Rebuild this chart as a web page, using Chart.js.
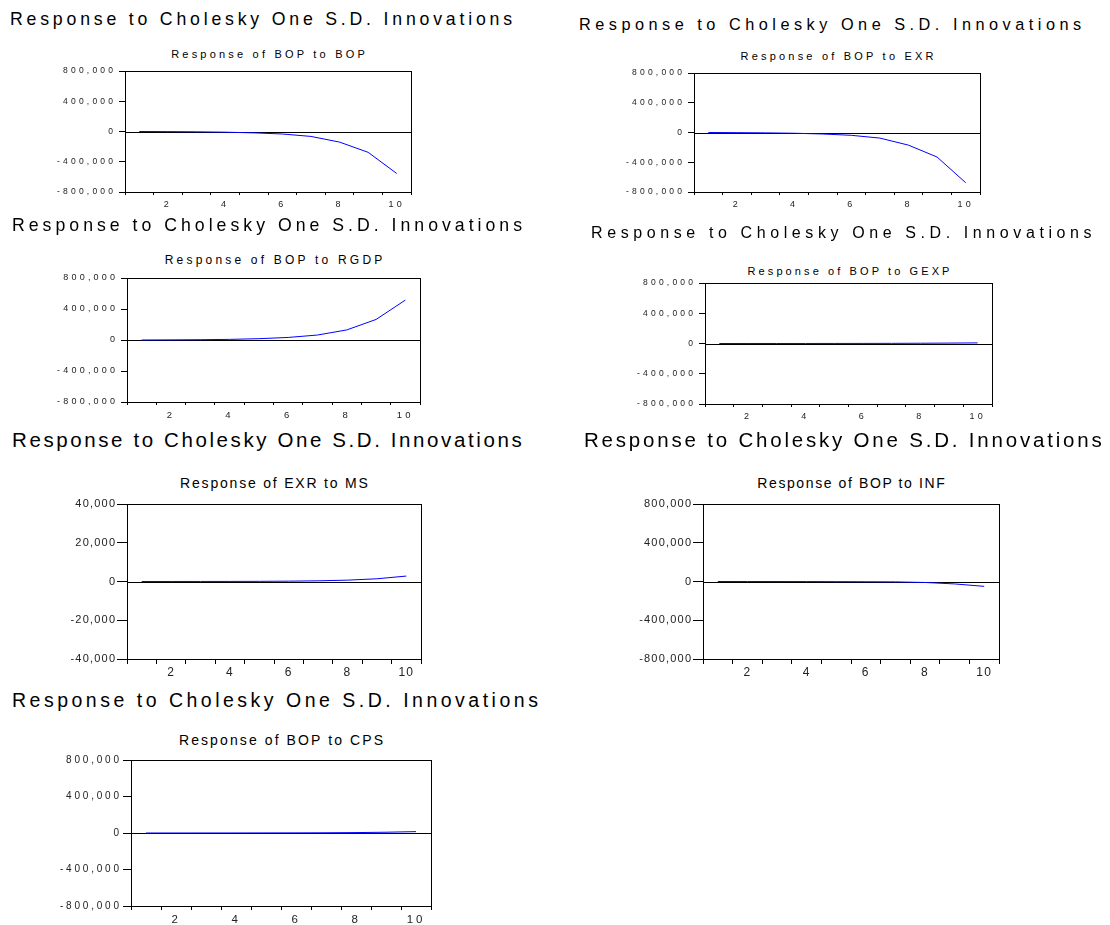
<!DOCTYPE html>
<html>
<head>
<meta charset="utf-8">
<script src="https://cdn.jsdelivr.net/npm/chart.js@4.4.1/dist/chart.umd.min.js"></script>
<style>
  body { margin: 0; background: #fff; width: 1110px; height: 925px; position: relative; overflow: hidden;
         font-family: "Liberation Sans", Arial, sans-serif; color: #000; }
  .sup, .sub { position: absolute; white-space: nowrap; line-height: 1; }
  .panel { position: absolute; }
</style>
</head>
<body>
<script>
// periods on the x axis
const periods = ["1", "2", "3", "4", "5", "6", "7", "8", "9", "10"];

// impulse responses
const bopToBop  = [0, -1500, -4000, -9000, -18000, -33000, -65000, -140000, -275000, -555000];
const bopToExr  = [0, -2000, -5000, -10000, -20000, -38000, -75000, -170000, -330000, -675000];
const bopToRgdp = [0, 1500, 4000, 8000, 17000, 33000, 64000, 130000, 265000, 515000];
const bopToGexp = [0, 100, 200, 400, 700, 1200, 2000, 3500, 5500, 8000];
const exrToMs   = [0, 10, 20, 40, 80, 170, 350, 700, 1400, 2800];
const bopToInf  = [0, -200, -400, -800, -1500, -2500, -4000, -10000, -25000, -50000];
const bopToCps  = [0, 100, 300, 500, 900, 1500, 2500, 4500, 8500, 15000];

// y axis ticks
const bigTicks = [-800000, -400000, 0, 400000, 800000];
const smallTicks = [-40000, -20000, 0, 20000, 40000];

const suptitle = "Response to Cholesky One S.D. Innovations";

// panel layout: plot box [left, top, right, bottom], title/subtitle placement, tick styling
const panels = [
  { data: bopToBop, name: "Response of BOP to BOP", ticks: bigTicks, box: [125, 71, 411, 192],
    sup: [10, 20, 17.7, 3.8], sub: [54, 11, 3.2], tf: [8.5, 9, 3.2], ty: 6, tx: 3, px: 4.6 },
  { data: bopToExr, name: "Response of BOP to EXR", ticks: bigTicks, box: [694, 73, 980, 192],
    sup: [579, 24, 16.3, 4.5], sub: [56, 11, 3.2], tf: [8.5, 9, 3.2], ty: 6, tx: 3, px: 4.6 },
  { data: bopToRgdp, name: "Response of BOP to RGDP", ticks: bigTicks, box: [127, 278, 420, 402],
    sup: [12, 226, 17.7, 4.0], sub: [260, 12, 3.2], tf: [9, 9.5, 3.2], ty: 6, tx: 3, px: 4.6 },
  { data: bopToGexp, name: "Response of BOP to GEXP", ticks: bigTicks, box: [705, 283, 992, 404],
    sup: [591, 233, 16, 4.6], sub: [271, 11, 3.1], tf: [8.5, 9, 3.2], ty: 6, tx: 3, px: 4.6 },
  { data: exrToMs, name: "Response of EXR to MS", ticks: smallTicks, box: [127, 504, 421, 659],
    sup: [12, 440, 20.5, 2.6], sub: [483, 14, 1.8], tf: [11, 12, 1.2], ty: 10, tx: 5, px: 1.8 },
  { data: bopToInf, name: "Response of BOP to INF", ticks: bigTicks, box: [703, 504, 999, 659],
    sup: [584, 440, 20.5, 2.8], sub: [483, 14, 1.6], tf: [11, 12, 1.2], ty: 10, tx: 5, px: 1.8 },
  { data: bopToCps, name: "Response of BOP to CPS", ticks: bigTicks, box: [131, 760, 431, 906],
    sup: [12, 701, 19.5, 3.5], sub: [740, 14, 2.1], tf: [10, 11.5, 2.8], ty: 8, tx: 4, px: 3 },
];

const PADL = 75, PADT = 10, PADR = 12, PADB = 26;

// frame + zero line, and letter spacing for canvas text
const frame = {
  id: "frame",
  beforeDraw(chart, args, opts) {
    chart.ctx.letterSpacing = opts.spacing + "px";
  },
  beforeDatasetsDraw(chart) {
    const { ctx, chartArea: a, scales } = chart;
    const y0 = Math.round(scales.y.getPixelForValue(0)) + 0.5;
    ctx.save();
    ctx.strokeStyle = "#000";
    ctx.lineWidth = 1;
    ctx.beginPath();
    ctx.moveTo(a.left, y0);
    ctx.lineTo(a.right, y0);
    ctx.stroke();
    ctx.restore();
  },
  afterDraw(chart) {
    const { ctx, chartArea: a } = chart;
    ctx.save();
    ctx.strokeStyle = "#000";
    ctx.lineWidth = 1;
    ctx.strokeRect(Math.round(a.left) + 0.5, Math.round(a.top) + 0.5,
      Math.round(a.right - a.left), Math.round(a.bottom - a.top));
    ctx.restore();
  },
};

function addText(cls, text, left, top, size, spacing) {
  const d = document.createElement("div");
  d.className = cls;
  d.textContent = text;
  d.style.left = left + "px";
  d.style.top = top + "px";
  d.style.fontSize = size + "px";
  d.style.letterSpacing = spacing + "px";
  document.body.appendChild(d);
  return d;
}

panels.forEach((p) => {
  const [l, t, r, b] = p.box;

  // big title over each panel
  addText("sup", suptitle, p.sup[0], p.sup[1] - 0.49 * p.sup[2], p.sup[2], p.sup[3]);

  // small title, centred on the plot box
  const s = addText("sub", p.name, (l + r) / 2, p.sub[0] - 0.49 * p.sub[1], p.sub[1], p.sub[2]);
  s.style.transform = "translateX(-50%)";
  s.style.marginLeft = p.sub[2] / 2 + "px";

  const wrap = document.createElement("div");
  wrap.className = "panel";
  wrap.style.left = l - PADL + "px";
  wrap.style.top = t - PADT + "px";
  wrap.style.width = r - l + PADL + PADR + "px";
  wrap.style.height = b - t + PADT + PADB + "px";
  const cv = document.createElement("canvas");
  wrap.appendChild(cv);
  document.body.appendChild(wrap);

  const yMin = p.ticks[0], yMax = p.ticks[p.ticks.length - 1];
  const yPad = 12 - p.ty - p.tf[2];

  new Chart(cv, {
    type: "line",
    data: {
      labels: periods,
      datasets: [{
        data: p.data,
        borderColor: "#0000ff",
        borderWidth: 1,
        pointRadius: 0,
        tension: 0,
        fill: false,
      }],
    },
    options: {
      responsive: true,
      maintainAspectRatio: false,
      animation: false,
      events: [],
      layout: { padding: { left: 0, top: PADT, right: PADR, bottom: 0 } },
      plugins: {
        legend: { display: false },
        tooltip: { enabled: false },
        frame: { spacing: p.tf[2] },
      },
      scales: {
        x: {
          type: "category",
          offset: true,
          border: { display: false },
          grid: { offset: true, drawOnChartArea: false, drawTicks: true, tickLength: p.tx, color: "#000", tickColor: "#000" },
          ticks: {
            autoSkip: false,
            maxRotation: 0,
            padding: p.px,
            color: "#222",
            font: { family: "Liberation Sans", size: p.tf[1] },
            callback: (v, i) => (i % 2 === 1 ? periods[i] : ""),
          },
          afterFit: (scale) => { scale.height = PADB; },
        },
        y: {
          min: yMin,
          max: yMax,
          border: { display: false },
          grid: { drawOnChartArea: false, drawTicks: true, tickLength: p.ty, color: "#000", tickColor: "#000" },
          ticks: {
            stepSize: p.ticks[1] - p.ticks[0],
            padding: yPad,
            color: "#222",
            font: { family: "Liberation Sans", size: p.tf[0] },
            callback: (v) => v.toLocaleString("en-US"),
          },
          afterFit: (scale) => { scale.width = PADL; },
        },
      },
    },
    plugins: [frame],
  });
});
</script>
</body>
</html>
